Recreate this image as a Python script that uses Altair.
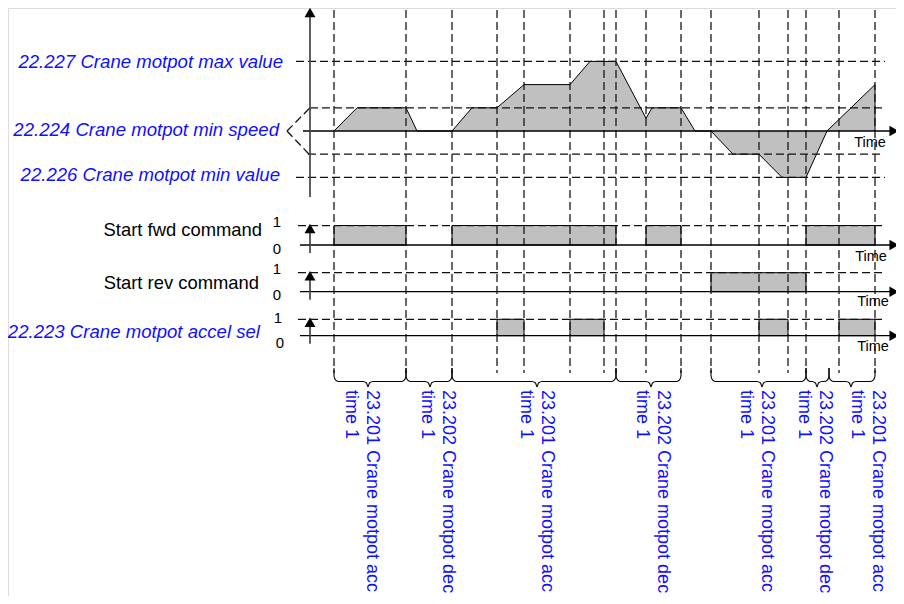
import altair as alt
import pandas as pd

# ---------------- data (time in units from the axis origin) ----------------
grid_t = [24, 96, 142, 187, 214, 260, 294, 306, 336, 371, 401, 449, 478, 496, 529, 565]

# speed reference profile (level units: 1 = min speed)
speed_t = [24, 47, 96, 107, 142, 162, 187, 214, 260, 280, 306, 336, 342, 371, 385,
           401, 423, 449, 472, 496, 517, 565, 565]
speed_v = [0, 1, 1, 0, 0, 1, 1, 2, 2, 3, 3, 0.55, 1, 1, 0,
           0, -1, -1, -2, -2, 0, 2, 0]

level_names = ["22.227 Crane motpot max value", "22.224 Crane motpot min speed",
               "22.226 Crane motpot min value"]
level_values = [3, 0, -2]
dashed_levels = [3, 1, -1, -2]

fwd_on = [24, 142, 336, 496]
fwd_off = [96, 306, 371, 565]
rev_on = [401]
rev_off = [496]
acc_on = [187, 260, 449, 529]
acc_off = [214, 294, 478, 565]

signal_names = ["Start fwd command", "Start rev command", "22.223 Crane motpot accel sel"]

brace_start = [24, 96, 142, 306, 401, 496, 519]
brace_end = [96, 142, 306, 371, 496, 519, 565]
brace_tip = [58, 120, 227, 341, 452, 507, 541]
brace_label_t = [57, 133, 232, 348, 452, 510, 563]
brace_label = ["23.201 Crane motpot acc", "23.202 Crane motpot dec",
               "23.201 Crane motpot acc", "23.202 Crane motpot dec",
               "23.201 Crane motpot acc", "23.202 Crane motpot dec",
               "23.201 Crane motpot acc"]
brace_label2 = ["time 1"] * 7

# ---------------- layout ----------------
X0 = 310            # axis position (px)
W, H = 888, 588
ZERO = 131          # speed zero line (px)
UNIT = 23.2         # px per speed level
LANES = [(245, 19.5), (291.7, 19.0), (335.7, 16.4)]   # (baseline px, height px)
GRID_TOP, GRID_BOT = 10, 373
BLUE = "#1010ff"
GRAY = "#c0c0c0"
FONT = "Liberation Sans"

def sy(v):
    return ZERO - v * UNIT

xs = alt.Scale(domain=[8 - X0, 8 + W - X0], range=[0, W], nice=False, zero=False)
ys = alt.Scale(domain=[8, 8 + H], range=[0, H], nice=False, zero=False)

def X(f="x"):
    return alt.X(f, type="quantitative", scale=xs, axis=None)

def Y(f="y"):
    return alt.Y(f, type="quantitative", scale=ys, axis=None)

def segs(rows):
    return pd.DataFrame(rows, columns=["x", "y", "x2", "y2"])

def rule_layer(df, **style):
    return alt.Chart(df).mark_rule(**style).encode(
        x=X("x"), y=Y("y"), x2=alt.X2("x2"), y2=alt.Y2("y2"))

# speed profile: closed by the zero line, so filling the path gives the area
speed_df = pd.DataFrame({"x": speed_t, "y": [sy(v) for v in speed_v],
                         "i": range(len(speed_t))})
prof = alt.Chart(speed_df).mark_line(stroke="black", fill=GRAY, strokeWidth=1).encode(
    x=X("x"), y=Y("y"), order=alt.Order("i:Q"))

# signal rectangles
rect_rows = []
for (base, hgt), ons, offs in zip(LANES, [fwd_on, rev_on, acc_on], [fwd_off, rev_off, acc_off]):
    for a, b in zip(ons, offs):
        rect_rows.append((a, base - hgt, b, base))
rects = alt.Chart(segs(rect_rows)).mark_rect(fill=GRAY, stroke="black", strokeWidth=1).encode(
    x=X("x"), y=Y("y"), x2=alt.X2("x2"), y2=alt.Y2("y2"))

# dashed lines
dash_rows = [(t, GRID_TOP, t, GRID_BOT) for t in grid_t]
lvl_extent = {3: (-14, 575), 1: (0, 572), -1: (-2, 572), -2: (-14, 575)}
for v in dashed_levels:
    a, b = lvl_extent[v]
    dash_rows.append((a, sy(v), b, sy(v)))
dash_rows.append((-23, ZERO, 0, sy(1)))
dash_rows.append((-23, ZERO, -1, sy(-1)))
for base, hgt in LANES:
    dash_rows.append((-12, base - hgt, 575, base - hgt))
dashed = rule_layer(segs(dash_rows), color="#111", strokeWidth=1.25, strokeDash=[8, 4])

# solid time lines
solid_rows = [(-7, ZERO, 580, ZERO)]
for base, hgt in LANES:
    solid_rows.append((-10, base, 580, base))
solid = rule_layer(segs(solid_rows), color="black", strokeWidth=1.3)

# vertical axes
axis_rows = [(0, 14, 0, 197)]
for base, hgt in LANES:
    axis_rows.append((0, base - hgt + 2, 0, base + 8))
axes = rule_layer(segs(axis_rows), color="#444", strokeWidth=1.7)

up_df = pd.DataFrame({"x": [0] * 4, "y": [12.5] + [base - hgt + 3 for base, hgt in LANES]})
ups = alt.Chart(up_df).mark_point(shape="triangle-up", filled=True, size=120,
                                  color="black", opacity=1).encode(x=X(), y=Y())
right_df = pd.DataFrame({"x": [584] * 4, "y": [ZERO] + [base for base, hgt in LANES]})
rights = alt.Chart(right_df).mark_point(shape="triangle-right", filled=True, size=110,
                                        color="black", opacity=1).encode(x=X(), y=Y())

# braces
brace_rows = []
for k, (a, b, m) in enumerate(zip(brace_start, brace_end, brace_tip)):
    pts = [(a, 368), (a, 376), (a + 1.5, 379.8), (a + 5, 381.5), (m - 5, 381.5),
           (m - 1.5, 383), (m, 387), (m + 1.5, 383), (m + 5, 381.5), (b - 5, 381.5),
           (b - 1.5, 379.8), (b, 376), (b, 368)]
    for i, (px, py) in enumerate(pts):
        brace_rows.append({"x": px, "y": py, "b": k, "i": i})
braces = alt.Chart(pd.DataFrame(brace_rows)).mark_line(
    color="black", strokeWidth=1.1, interpolate="monotone").encode(
    x=X(), y=Y(), detail="b:N", order=alt.Order("i:Q"))

# texts
lvl_txt = pd.DataFrame({"x": [-27, -31, -30], "y": [61.7, 130, 175], "t": level_names})
lvl_text = alt.Chart(lvl_txt).mark_text(align="right", baseline="middle", font=FONT,
                                        fontSize=18.6, fontStyle="italic", color=BLUE).encode(
    x=X(), y=Y(), text="t:N")
sig_txt = pd.DataFrame({"x": [-48, -51], "y": [230, 283], "t": signal_names[:2]})
sig_text = alt.Chart(sig_txt).mark_text(align="right", baseline="middle", font=FONT,
                                        fontSize=18.4, color="black").encode(
    x=X(), y=Y(), text="t:N")
sig_txt3 = pd.DataFrame({"x": [-50], "y": [332], "t": signal_names[2:]})
sig_text3 = alt.Chart(sig_txt3).mark_text(align="right", baseline="middle", font=FONT,
                                          fontSize=18.6, fontStyle="italic", color=BLUE).encode(
    x=X(), y=Y(), text="t:N")
bin_txt = pd.DataFrame({"x": [-33, -33, -33, -33, -32, -30],
                        "y": [222, 249, 269, 295, 318, 343],
                        "t": ["1", "0", "1", "0", "1", "0"]})
bin_text = alt.Chart(bin_txt).mark_text(align="center", baseline="middle", font=FONT,
                                        fontSize=15, color="black").encode(
    x=X(), y=Y(), text="t:N")
time_txt = pd.DataFrame({"x": [560, 561, 563, 563], "y": [143, 257, 302, 347],
                         "t": ["Time"] * 4})
time_text = alt.Chart(time_txt).mark_text(align="center", baseline="middle", font=FONT,
                                          fontSize=14.5, color="black").encode(
    x=X(), y=Y(), text="t:N")
bl_df = pd.DataFrame({"x": brace_label_t, "y": [390] * 7,
                      "t": [a + "\n" + b for a, b in zip(brace_label, brace_label2)]})
bl_text = alt.Chart(bl_df).mark_text(align="left", baseline="alphabetic", angle=90,
                                     lineBreak="\n", lineHeight=21, font=FONT, fontSize=18,
                                     color=BLUE).encode(
    x=X(), y=Y(), text="t:N")

chart = alt.layer(rects, prof, dashed, solid, axes, ups, rights, braces,
                  lvl_text, sig_text, sig_text3, bin_text, time_text, bl_text).properties(
    width=W, height=H, autosize=alt.AutoSizeParams(type="none"), padding=0
).configure_view(stroke=None).configure(background="white")

chart.save("out.html", embed_options={"renderer": "svg", "actions": False})
